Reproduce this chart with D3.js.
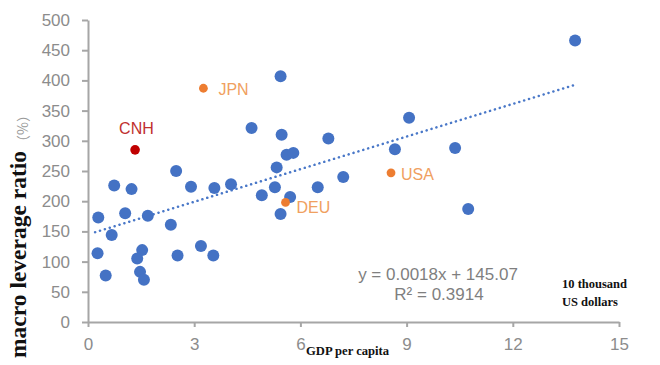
<!DOCTYPE html>
<html>
<head>
<meta charset="utf-8">
<script src="https://cdn.jsdelivr.net/npm/d3@7"></script>
<style>
  body { margin: 0; background: #fff; }
  svg { display: block; }
</style>
</head>
<body>
<svg id="chart"></svg>
<script>
// GDP per capita (10 thousand US dollars) and macro leverage ratio (%)
const gdp = [0.29, 0.27, 0.5, 0.67, 0.74, 1.05, 1.23, 1.69, 1.53, 1.39, 1.47, 1.58,
  2.34, 2.53, 2.91, 3.19, 3.54, 3.57, 4.04, 4.91, 5.28, 5.44, 5.71, 6.49,
  5.44, 4.62, 5.47, 5.61, 5.8, 5.33, 2.49, 6.79, 7.21, 8.67, 9.07, 10.37, 10.74, 13.76];
const leverage = [173, 114, 77, 144, 226, 180, 220, 176, 119, 105, 83, 70,
  161, 110, 224, 126, 110, 222, 228, 210, 223, 179, 207, 223,
  407, 321, 310, 277, 280, 256, 250, 304, 240, 286, 338, 288, 187, 466];

// labelled countries
const names = ["CNH", "JPN", "USA", "DEU"];
const namesGdp = [1.33, 3.26, 8.56, 5.58];
const namesLev = [285, 387, 247, 198];
const namesColor = ["#c00000", "#ed7d31", "#ed7d31", "#ed7d31"];
const labelColor = ["#c0302f", "#f0a060", "#f0a060", "#f0a060"];

const xTicks = [0, 3, 6, 9, 12, 15];
const yTicks = [0, 50, 100, 150, 200, 250, 300, 350, 400, 450, 500];

// trend line y = 0.0018x + 145.07 (x in US dollars)
const slope = 0.0018 * 10000;
const intercept = 145.07;
const trendRange = [0.2, 13.7];

const width = 660, height = 365;
const svg = d3.select("#chart").attr("width", width).attr("height", height);

const x = d3.scaleLinear().domain([0, 15]).range([88, 619]);
const y = d3.scaleLinear().domain([0, 500]).range([322, 20]);

const axisColor = "#a6a6a6";
const tickText = "#8c8c8c";

// y axis
const yAxis = svg.append("g")
  .attr("transform", `translate(${x(0)},0)`)
  .call(d3.axisLeft(y).tickValues(yTicks).tickSize(6).tickSizeOuter(0).tickPadding(12));
// x axis
const xAxis = svg.append("g")
  .attr("transform", `translate(0,${y(0)})`)
  .call(d3.axisBottom(x).tickValues(xTicks).tickSize(5).tickSizeOuter(0).tickPadding(11));

[xAxis, yAxis].forEach(g => {
  g.select(".domain").attr("stroke", axisColor).attr("stroke-width", 2);
  g.selectAll(".tick line").attr("stroke", axisColor).attr("stroke-width", 2);
  g.selectAll(".tick text")
    .attr("fill", tickText)
    .style("font-family", "Liberation Sans, Arial, sans-serif")
    .style("font-size", "17px");
});

// trend line
svg.append("line")
  .attr("x1", x(trendRange[0]))
  .attr("y1", y(intercept + slope * trendRange[0]))
  .attr("x2", x(trendRange[1]))
  .attr("y2", y(intercept + slope * trendRange[1]))
  .attr("stroke", "#4a78c8")
  .attr("stroke-width", 2.5)
  .attr("stroke-linecap", "round")
  .attr("stroke-dasharray", "0.1,5");

// blue points
svg.append("g")
  .selectAll("circle")
  .data(gdp.map((g, i) => [g, leverage[i]]))
  .join("circle")
  .attr("cx", d => x(d[0]))
  .attr("cy", d => y(d[1]))
  .attr("r", 6)
  .attr("fill", "#4472c4");

// labelled points
const lab = svg.append("g");
names.forEach((n, i) => {
  lab.append("circle")
    .attr("cx", x(namesGdp[i]))
    .attr("cy", y(namesLev[i]))
    .attr("r", n === "CNH" ? 4.8 : 4.4)
    .attr("fill", namesColor[i]);
});
const labelStyle = sel => sel
  .style("font-family", "Liberation Sans, Arial, sans-serif")
  .style("font-size", "16px");
// label positions relative to points
const labelDx = [-16, 15, 10, 11];
const labelDy = [-16, 7, 7, 11];
names.forEach((n, i) => {
  lab.append("text")
    .attr("x", x(namesGdp[i]) + labelDx[i])
    .attr("y", y(namesLev[i]) + labelDy[i])
    .attr("fill", labelColor[i])
    .text(n)
    .call(labelStyle);
});

// equation
const eq = svg.append("text")
  .attr("text-anchor", "middle")
  .attr("fill", "#7f7f7f")
  .style("font-family", "Liberation Sans, Arial, sans-serif")
  .style("font-size", "17px");
eq.append("tspan").attr("x", 438).attr("y", 280).text("y = 0.0018x  + 145.07");
eq.append("tspan").attr("x", 439).attr("y", 300).text("R² = 0.3914");

// unit note
const unit = svg.append("text")
  .attr("fill", "#111")
  .style("font-family", "Liberation Serif, Times New Roman, serif")
  .style("font-weight", "bold")
  .style("font-size", "12.5px");
unit.append("tspan").attr("x", 562).attr("y", 288).text("10 thousand");
unit.append("tspan").attr("x", 562).attr("y", 306).text("US dollars");

// x axis title
svg.append("text")
  .attr("x", 306)
  .attr("y", 355)
  .attr("fill", "#111")
  .style("font-family", "Liberation Serif, Times New Roman, serif")
  .style("font-weight", "bold")
  .style("font-size", "12.6px")
  .text("GDP per capita");

// y axis title
svg.append("text")
  .attr("transform", "translate(26,358) rotate(-90)")
  .attr("fill", "#111")
  .style("font-family", "Liberation Serif, Times New Roman, serif")
  .style("font-weight", "bold")
  .style("font-size", "23.5px")
  .text("macro leverage ratio");
svg.append("text")
  .attr("transform", "translate(28,149) rotate(-90)")
  .attr("fill", "#999")
  .style("font-family", "Noto Sans CJK SC, sans-serif")
  .style("font-size", "14px")
  .text("（%）");
</script>
</body>
</html>
